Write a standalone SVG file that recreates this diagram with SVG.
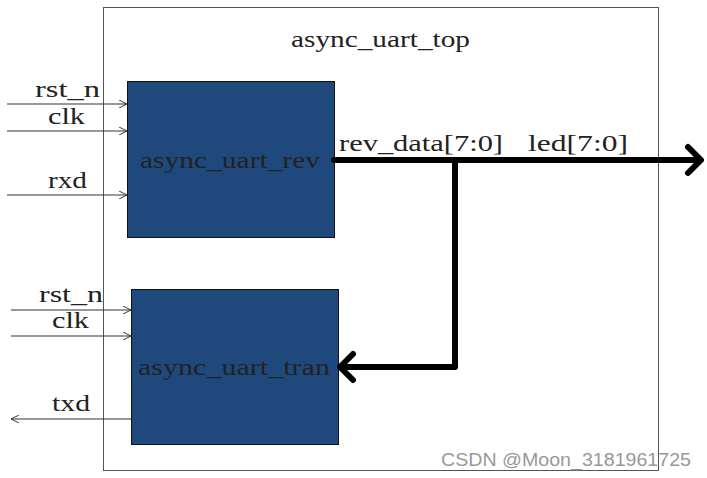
<svg xmlns="http://www.w3.org/2000/svg" width="707" height="478" viewBox="0 0 707 478">
<style>
.t{font-family:"Liberation Serif","DejaVu Serif",serif;font-size:23px;fill:#222}
.blk{fill:#1f497d;stroke:#111;stroke-width:1}
.thin{stroke:#333;stroke-width:1.2;fill:none}
.thick{stroke:#000;stroke-width:6;fill:none;stroke-linecap:round;stroke-linejoin:round}
</style>
<defs>
<marker id="oa" viewBox="0 0 10 10" refX="10" refY="5" markerWidth="8" markerHeight="8" markerUnits="userSpaceOnUse" orient="auto">
<path d="M0,0 L10,5 L0,10" fill="none" stroke="#333" stroke-width="1.2"/>
</marker>
</defs>
<rect width="707" height="478" fill="#fff"/>
<g id="top">
<rect x="103.5" y="7.5" width="555" height="463" fill="#fff" stroke="#555" stroke-width="1"/>
<text class="t" x="291" y="47" textLength="179" lengthAdjust="spacingAndGlyphs">async_uart_top</text>
</g>
<g id="rev">
<rect class="blk" x="127.5" y="81.5" width="207" height="156"/>
<text class="t" x="140" y="168" textLength="180" lengthAdjust="spacingAndGlyphs">async_uart_rev</text>
</g>
<g id="tran">
<rect class="blk" x="131.5" y="289.5" width="207" height="155"/>
<text class="t" x="138" y="375" textLength="192" lengthAdjust="spacingAndGlyphs">async_uart_tran</text>
</g>
<g id="connectors">
<line class="thin" x1="7" y1="104" x2="127" y2="104" marker-end="url(#oa)"/>
<line class="thin" x1="7" y1="131" x2="127" y2="131" marker-end="url(#oa)"/>
<line class="thin" x1="7" y1="195" x2="127" y2="195" marker-end="url(#oa)"/>
<line class="thin" x1="11" y1="310" x2="131" y2="310" marker-end="url(#oa)"/>
<line class="thin" x1="11" y1="336" x2="131" y2="336" marker-end="url(#oa)"/>
<line class="thin" x1="131" y1="419" x2="11" y2="419" marker-end="url(#oa)"/>
<path class="thick" d="M334,160 H700"/>
<path class="thick" d="M688,147 L701,160 L688,173"/>
<path class="thick" d="M455,160 V367 H340"/>
<path class="thick" d="M353,354 L340,367 L353,380"/>
</g>
<g id="labels">
<text class="t" x="35" y="97" textLength="65" lengthAdjust="spacingAndGlyphs">rst_n</text>
<text class="t" x="48" y="124" textLength="37" lengthAdjust="spacingAndGlyphs">clk</text>
<text class="t" x="48" y="188" textLength="39" lengthAdjust="spacingAndGlyphs">rxd</text>
<text class="t" x="39" y="302" textLength="64" lengthAdjust="spacingAndGlyphs">rst_n</text>
<text class="t" x="52" y="328" textLength="37" lengthAdjust="spacingAndGlyphs">clk</text>
<text class="t" x="52" y="411" textLength="38" lengthAdjust="spacingAndGlyphs">txd</text>
<text class="t" x="339" y="151" textLength="164" lengthAdjust="spacingAndGlyphs">rev_data[7:0]</text>
<text class="t" x="528" y="151" textLength="100" lengthAdjust="spacingAndGlyphs">led[7:0]</text>
</g>
<text x="441" y="466" font-family="Liberation Sans,Arial,sans-serif" font-size="18" fill="#999" textLength="250" lengthAdjust="spacingAndGlyphs">CSDN @Moon_3181961725</text>
</svg>
